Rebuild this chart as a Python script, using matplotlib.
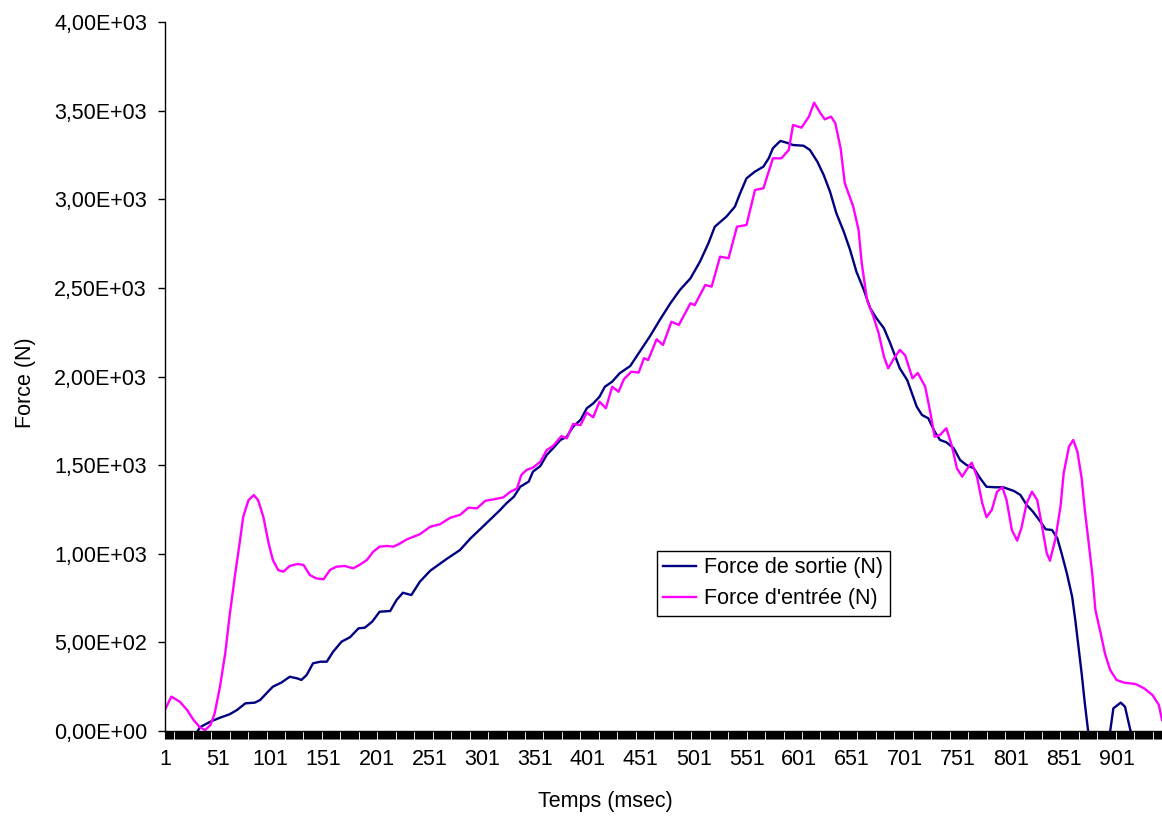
import matplotlib
matplotlib.use('Agg')
import matplotlib.pyplot as plt
from matplotlib.ticker import FuncFormatter

plt.rcParams['font.family'] = ['Liberation Sans', 'DejaVu Sans']

# number of samples (msec)
n_cat = 944

# Force de sortie (N)
blue_x = [1, 15, 28, 34, 44, 53, 62, 69, 77, 86,
          91, 97, 103, 111, 119, 126, 130, 135, 141, 148,
          154, 160, 168, 176, 184, 190, 197, 204, 214, 220,
          226, 234, 242, 252, 267, 280, 290, 299, 308, 318,
          324, 331, 337, 345, 349, 356, 362, 368, 375, 381,
          387, 394, 400, 406, 412, 417, 424, 431, 441, 450,
          460, 469, 479, 488, 498, 507, 515, 521, 532, 540,
          545, 551, 559, 567, 572, 576, 583, 589, 595, 605,
          611, 618, 624, 630, 636, 643, 649, 655, 662, 668,
          674, 681, 687, 696, 703, 707, 712, 717, 723, 729,
          734, 740, 747, 753, 759, 766, 772, 778, 786, 794,
          804, 810, 816, 822, 829, 834, 840, 845, 849, 854,
          859, 862, 865, 868, 871, 874, 878, 886, 892, 895,
          898, 905, 909, 914, 918, 930, 944]
blue_y = [-150, -110, -40, 21, 53, 75, 94, 118, 156, 160,
          175, 213, 250, 273, 306, 297, 288, 316, 382, 391,
          391, 447, 504, 529, 579, 583, 617, 673, 677, 739,
          780, 767, 842, 905, 969, 1021, 1087, 1138, 1190, 1247,
          1285, 1322, 1378, 1407, 1463, 1495, 1557, 1595, 1642, 1660,
          1717, 1755, 1821, 1848, 1886, 1942, 1971, 2018, 2059, 2140,
          2230, 2319, 2413, 2488, 2554, 2648, 2752, 2845, 2902, 2958,
          3034, 3118, 3156, 3184, 3231, 3288, 3329, 3319, 3306, 3302,
          3278, 3212, 3137, 3043, 2921, 2817, 2714, 2591, 2488, 2385,
          2328, 2272, 2187, 2046, 1980, 1914, 1830, 1783, 1764, 1689,
          1642, 1629, 1595, 1529, 1501, 1482, 1426, 1378, 1375, 1375,
          1354, 1332, 1275, 1237, 1181, 1138, 1134, 1087, 1003, 890,
          758, 626, 476, 325, 156, 6, -100, -120, -60, 0,
          128, 160, 137, 6, -60, -120, -150]

# Force d'entree (N)
pink_x = [1, 7, 15, 22, 28, 34, 39, 44, 48, 53,
          58, 62, 67, 72, 75, 80, 85, 89, 94, 99,
          103, 108, 113, 119, 126, 132, 138, 144, 151, 157,
          163, 171, 179, 185, 192, 198, 204, 211, 217, 223,
          230, 236, 242, 252, 261, 271, 280, 288, 296, 304,
          312, 321, 327, 334, 338, 343, 349, 356, 362, 368,
          376, 381, 387, 394, 400, 406, 412, 418, 424, 430,
          435, 442, 449, 454, 458, 466, 472, 480, 487, 498,
          502, 512, 518, 526, 534, 542, 551, 559, 567, 576,
          584, 591, 595, 603, 610, 615, 621, 625, 631, 635,
          640, 644, 652, 657, 660, 665, 671, 676, 681, 685,
          690, 696, 701, 708, 713, 720, 725, 729, 734, 740,
          745, 750, 755, 759, 764, 769, 774, 778, 783, 788,
          793, 797, 802, 807, 811, 816, 821, 826, 830, 835,
          838, 843, 848, 851, 856, 860, 864, 868, 871, 874,
          878, 881, 886, 890, 895, 901, 908, 919, 927, 935,
          941, 944]
pink_y = [120, 194, 165, 118, 62, 21, 5, 34, 100, 250,
          440, 645, 870, 1078, 1209, 1303, 1331, 1303, 1209, 1059,
          965, 908, 899, 931, 942, 937, 880, 861, 856, 908,
          927, 931, 918, 937, 965, 1012, 1040, 1044, 1040, 1057,
          1082, 1096, 1110, 1153, 1166, 1204, 1219, 1260, 1256, 1299,
          1307, 1318, 1347, 1369, 1444, 1473, 1486, 1519, 1585, 1608,
          1664, 1651, 1732, 1726, 1796, 1770, 1858, 1821, 1942, 1914,
          1984, 2027, 2022, 2103, 2093, 2210, 2178, 2309, 2291, 2413,
          2403, 2516, 2507, 2676, 2667, 2845, 2855, 3052, 3062, 3231,
          3231, 3278, 3419, 3404, 3466, 3545, 3485, 3451, 3466, 3429,
          3288, 3090, 2958, 2827, 2639, 2432, 2338, 2244, 2112, 2046,
          2097, 2150, 2120, 1990, 2020, 1943, 1793, 1660, 1670, 1708,
          1614, 1482, 1435, 1473, 1514, 1435, 1285, 1206, 1247, 1350,
          1375, 1303, 1134, 1074, 1144, 1285, 1350, 1303, 1172, 1003,
          961, 1078, 1266, 1454, 1604, 1642, 1576, 1426, 1247, 1096,
          890, 683, 551, 438, 344, 288, 273, 265, 241, 203,
          147, 62]

x_labels = [str(v) for v in range(1, 902, 50)]

fs = 15.5

fig = plt.figure(figsize=(11.62, 8.16), dpi=100)
ax = fig.add_axes([165 / 1162, 85 / 816, 997 / 1162, 709 / 816])

ax.plot(blue_x, blue_y, color='#000080', lw=1.7, label='Force de sortie (N)')
ax.plot(pink_x, pink_y, color='#FF00FF', lw=1.7, label="Force d'entrée (N)")

ax.set_xlim(1, n_cat)
ax.set_ylim(0, 4000)

# one tick per sample, label every 50
ticks = list(range(1, n_cat + 1))
ax.set_xticks(ticks)
ax.set_xticklabels([str(t) if str(t) in x_labels else '' for t in ticks])
ax.tick_params(axis='x', direction='out', length=6, width=0.8, pad=7,
               labelsize=fs, colors='black')

ax.set_yticks(range(0, 4001, 500))
ax.yaxis.set_major_formatter(FuncFormatter(lambda v, p: f'{v:.2E}'.replace('.', ',')))
ax.tick_params(axis='y', direction='out', length=5, width=1, pad=8, labelsize=fs)

for s in ['top', 'right']:
    ax.spines[s].set_visible(False)
ax.spines['left'].set_linewidth(1)
ax.spines['bottom'].set_linewidth(1)

fig.text(605 / 1162, 1 - 802 / 816, 'Temps (msec)', ha='center', va='center', fontsize=fs)
fig.text(25 / 1162, 1 - 383 / 816, 'Force (N)', ha='center', va='center',
         rotation=90, fontsize=fs)

leg = ax.legend(loc='upper left', bbox_to_anchor=(657 / 1162, 1 - 551 / 816),
                bbox_transform=fig.transFigure, fontsize=fs, frameon=True,
                fancybox=False, framealpha=1, edgecolor='black', borderpad=0.3,
                handlelength=1.5, handletextpad=0.4, labelspacing=0.45,
                borderaxespad=0)
leg.get_frame().set_linewidth(1)

plt.savefig('out.png', dpi=100)
